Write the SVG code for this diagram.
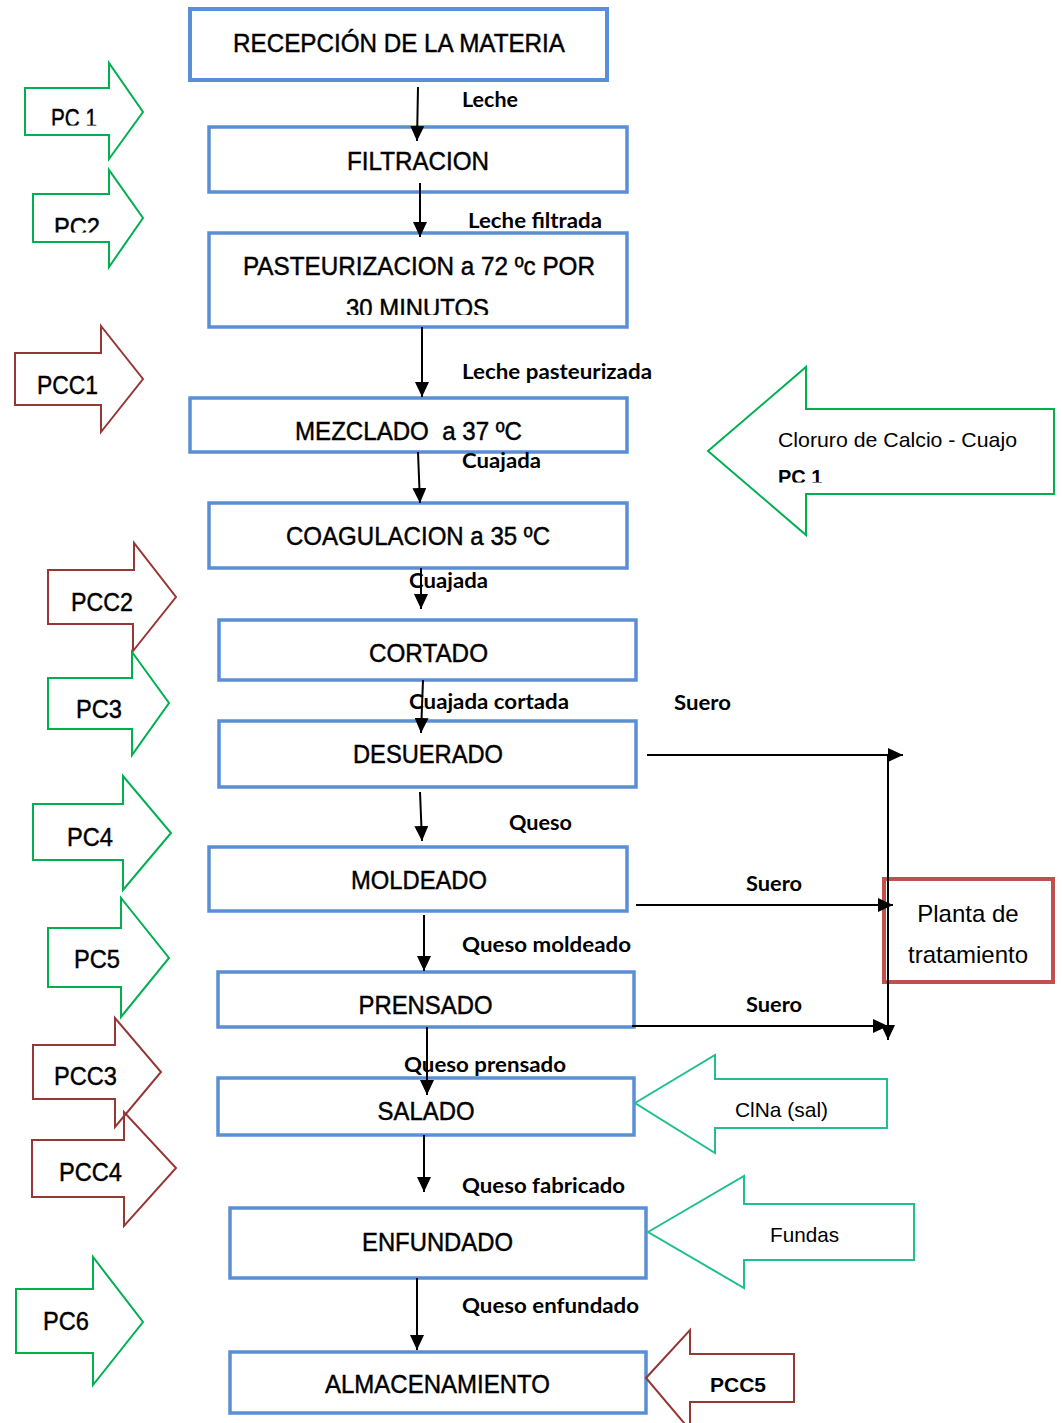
<svg xmlns="http://www.w3.org/2000/svg" width="1062" height="1423" viewBox="0 0 1062 1423">
<style>
.box{fill:#fff;stroke:#5b8fd5;stroke-width:3.5}
.bt{font-family:"Liberation Sans",Arial,sans-serif;font-size:26px;text-anchor:middle;fill:#000;stroke:#000;stroke-width:0.45}
.pc{fill:none;stroke:#00b050;stroke-width:2}
.pcc{fill:none;stroke:#953735;stroke-width:2}
.in{fill:none;stroke:#1fbf8f;stroke-width:2}
.lt{font-family:"Liberation Sans",Arial,sans-serif;font-size:26px;fill:#000;stroke:#000;stroke-width:0.45}
.st{font-family:"Liberation Sans",Arial,sans-serif;font-size:21px;fill:#000}
.cl{font-family:Lato,"Open Sans",sans-serif;font-weight:bold;font-size:20px;fill:#000}
.con{stroke:#000;stroke-width:2;fill:none}
</style>
<defs>
<marker id="ah" markerUnits="userSpaceOnUse" markerWidth="15" markerHeight="14" viewBox="0 0 15 14" refX="15" refY="7" orient="auto">
<path d="M0,0 L15,7 L0,14 Z" fill="#000"/>
</marker>
<clipPath id="c30"><rect x="200" y="290" width="440" height="25"/></clipPath>
<clipPath id="cpc1"><rect x="20" y="100" width="120" height="25.5"/></clipPath>
<clipPath id="cpc2"><rect x="20" y="205" width="120" height="27.5"/></clipPath>
<clipPath id="cpcb"><rect x="770" y="460" width="100" height="22.5"/></clipPath>
</defs>

<g id="recepcion"><rect class="box" x="190" y="9" width="417" height="71" style="stroke-width:4"/><text class="bt" x="399" y="52" textLength="332" lengthAdjust="spacingAndGlyphs">RECEPCIÓN DE LA MATERIA</text></g>
<g id="filtracion"><rect class="box" x="209" y="127" width="418" height="65"/><text class="bt" x="418" y="170" textLength="142" lengthAdjust="spacingAndGlyphs">FILTRACION</text></g>
<g id="pasteurizacion"><rect class="box" x="209" y="233" width="418" height="94"/><text class="bt" x="419" y="275" textLength="352" lengthAdjust="spacingAndGlyphs">PASTEURIZACION a 72 ºc POR</text><text class="bt" x="417.5" y="317" textLength="143" lengthAdjust="spacingAndGlyphs" clip-path="url(#c30)">30 MINUTOS</text></g>
<g id="mezclado"><rect class="box" x="190" y="398" width="437" height="54"/><text class="bt" x="408.5" y="440" textLength="227" lengthAdjust="spacingAndGlyphs" xml:space="preserve">MEZCLADO  a 37 ºC</text></g>
<g id="coagulacion"><rect class="box" x="209" y="503" width="418" height="65"/><text class="bt" x="418" y="545" textLength="264" lengthAdjust="spacingAndGlyphs">COAGULACION a 35 ºC</text></g>
<g id="cortado"><rect class="box" x="219" y="620" width="417" height="60"/><text class="bt" x="428.5" y="662" textLength="119" lengthAdjust="spacingAndGlyphs">CORTADO</text></g>
<g id="desuerado"><rect class="box" x="219" y="721" width="417" height="66"/><text class="bt" x="428" y="763" textLength="150" lengthAdjust="spacingAndGlyphs">DESUERADO</text></g>
<g id="moldeado"><rect class="box" x="209" y="847" width="418" height="64"/><text class="bt" x="419" y="889" textLength="136" lengthAdjust="spacingAndGlyphs">MOLDEADO</text></g>
<g id="prensado"><rect class="box" x="218" y="972" width="416" height="55"/><text class="bt" x="425.5" y="1014" textLength="134" lengthAdjust="spacingAndGlyphs">PRENSADO</text></g>
<g id="salado"><rect class="box" x="218" y="1078" width="416" height="57"/><text class="bt" x="426" y="1120" textLength="97" lengthAdjust="spacingAndGlyphs">SALADO</text></g>
<g id="enfundado"><rect class="box" x="230" y="1208" width="416" height="70"/><text class="bt" x="437.5" y="1251" textLength="151" lengthAdjust="spacingAndGlyphs">ENFUNDADO</text></g>
<g id="almacenamiento"><rect class="box" x="230" y="1352" width="416" height="61"/><text class="bt" x="437.5" y="1393" textLength="225" lengthAdjust="spacingAndGlyphs">ALMACENAMIENTO</text></g>
<g id="planta"><rect x="884" y="879" width="169" height="103" fill="#fff" stroke="#c0504d" stroke-width="4"/><text class="st" x="968" y="922" text-anchor="middle" style="font-size:24px">Planta de</text><text class="st" x="968" y="963" text-anchor="middle" style="font-size:24px">tratamiento</text></g>

<g id="pc1"><polygon class="pc" points="25,88 109,88 109,63 143,112 109,159 109,135 25,135"/><text class="lt" x="51" y="127" textLength="46" lengthAdjust="spacingAndGlyphs" clip-path="url(#cpc1)">PC 1</text></g>
<g id="pc2"><polygon class="pc" points="33,194 109,194 109,170 143,218 109,267 109,242 33,242"/><text class="lt" x="54" y="236" textLength="46" lengthAdjust="spacingAndGlyphs" clip-path="url(#cpc2)">PC2</text></g>
<g id="pcc1"><polygon class="pcc" points="15,353 101,353 101,326 143,379 101,432 101,405 15,405"/><text class="lt" x="37" y="394" textLength="61" lengthAdjust="spacingAndGlyphs">PCC1</text></g>
<g id="pcc2"><polygon class="pcc" points="48,570 134,570 134,543 176,597 133,651 133,624 48,624"/><text class="lt" x="71" y="611" textLength="62" lengthAdjust="spacingAndGlyphs">PCC2</text></g>
<g id="pc3"><polygon class="pc" points="48,678 132,678 132,652 169,703 132,755 132,729 48,729"/><text class="lt" x="76" y="718" textLength="46" lengthAdjust="spacingAndGlyphs">PC3</text></g>
<g id="pc4"><polygon class="pc" points="33,804 123,804 123,776 171,833 123,890 123,860 33,860"/><text class="lt" x="67" y="846" textLength="46" lengthAdjust="spacingAndGlyphs">PC4</text></g>
<g id="pc5"><polygon class="pc" points="48,928 121,928 121,898 169,958 121,1017 121,987 48,987"/><text class="lt" x="74" y="968" textLength="46" lengthAdjust="spacingAndGlyphs">PC5</text></g>
<g id="pcc3"><polygon class="pcc" points="33,1045 115,1045 115,1018 161,1072 115,1127 115,1099 33,1099"/><text class="lt" x="54" y="1085" textLength="63" lengthAdjust="spacingAndGlyphs">PCC3</text></g>
<g id="pcc4"><polygon class="pcc" points="32,1140 124,1140 124,1112 176,1168 124,1226 124,1197 32,1197"/><text class="lt" x="59" y="1181" textLength="63" lengthAdjust="spacingAndGlyphs">PCC4</text></g>
<g id="pc6"><polygon class="pc" points="16,1289 93,1289 93,1257 143,1322 93,1385 93,1353 16,1353"/><text class="lt" x="43" y="1330" textLength="46" lengthAdjust="spacingAndGlyphs">PC6</text></g>

<g id="cloruro"><polygon class="pc" points="708,451 806,367 806,409 1054,409 1054,494 806,494 806,535"/><text class="st" x="778" y="447" textLength="239" lengthAdjust="spacingAndGlyphs">Cloruro de Calcio - Cuajo</text><text class="st" x="778" y="484" font-weight="bold" style="font-size:20px" clip-path="url(#cpcb)">PC 1</text></g>
<g id="clna"><polygon class="in" points="635,1103 715,1055 715,1079 887,1079 887,1128 715,1128 715,1153"/><text class="st" x="735" y="1117" textLength="93" lengthAdjust="spacingAndGlyphs">ClNa (sal)</text></g>
<g id="fundas"><polygon class="in" points="648,1232 744,1176 744,1204 914,1204 914,1260 744,1260 744,1288"/><text class="st" x="770" y="1242" textLength="69" lengthAdjust="spacingAndGlyphs">Fundas</text></g>
<g id="pcc5"><polygon class="pcc" points="646,1378 690,1330 690,1354 794,1354 794,1402 690,1402 690,1430"/><text class="st" x="710" y="1392" font-weight="bold" style="font-size:20px" textLength="56" lengthAdjust="spacingAndGlyphs">PCC5</text></g>

<g id="connectors">
<line class="con" x1="418" y1="87" x2="417" y2="141" marker-end="url(#ah)"/>
<line class="con" x1="420" y1="183" x2="420" y2="237" marker-end="url(#ah)"/>
<line class="con" x1="422" y1="327" x2="422" y2="397" marker-end="url(#ah)"/>
<line class="con" x1="418" y1="452" x2="420" y2="503" marker-end="url(#ah)"/>
<line class="con" x1="421" y1="568" x2="421" y2="609" marker-end="url(#ah)"/>
<line class="con" x1="423" y1="680" x2="421" y2="733" marker-end="url(#ah)"/>
<line class="con" x1="420" y1="792" x2="422" y2="841" marker-end="url(#ah)"/>
<line class="con" x1="424" y1="915" x2="424" y2="971" marker-end="url(#ah)"/>
<line class="con" x1="427" y1="1027" x2="427" y2="1095" marker-end="url(#ah)"/>
<line class="con" x1="424" y1="1135" x2="424" y2="1192" marker-end="url(#ah)"/>
<line class="con" x1="417" y1="1278" x2="417" y2="1350" marker-end="url(#ah)"/>
<line class="con" x1="647" y1="755" x2="903" y2="755" marker-end="url(#ah)"/>
<line class="con" x1="636" y1="905" x2="893" y2="905" marker-end="url(#ah)"/>
<line class="con" x1="632" y1="1026" x2="888" y2="1026" marker-end="url(#ah)"/>
<line class="con" x1="888" y1="755" x2="888" y2="1040" marker-end="url(#ah)"/>
<text class="cl" x="462" y="107" textLength="56" lengthAdjust="spacingAndGlyphs">Leche</text>
<text class="cl" x="468" y="228" textLength="134" lengthAdjust="spacingAndGlyphs">Leche filtrada</text>
<text class="cl" x="462" y="379" textLength="190" lengthAdjust="spacingAndGlyphs">Leche pasteurizada</text>
<text class="cl" x="462" y="468" textLength="79" lengthAdjust="spacingAndGlyphs">Cuajada</text>
<text class="cl" x="409" y="588" textLength="79" lengthAdjust="spacingAndGlyphs">Cuajada</text>
<text class="cl" x="409" y="709" textLength="160" lengthAdjust="spacingAndGlyphs">Cuajada cortada</text>
<text class="cl" x="674" y="710" textLength="57" lengthAdjust="spacingAndGlyphs">Suero</text>
<text class="cl" x="509" y="830" textLength="63" lengthAdjust="spacingAndGlyphs">Queso</text>
<text class="cl" x="746" y="891" textLength="56" lengthAdjust="spacingAndGlyphs">Suero</text>
<text class="cl" x="462" y="952" textLength="169" lengthAdjust="spacingAndGlyphs">Queso moldeado</text>
<text class="cl" x="746" y="1012" textLength="56" lengthAdjust="spacingAndGlyphs">Suero</text>
<text class="cl" x="404" y="1072" textLength="162" lengthAdjust="spacingAndGlyphs">Queso prensado</text>
<text class="cl" x="462" y="1193" textLength="163" lengthAdjust="spacingAndGlyphs">Queso fabricado</text>
<text class="cl" x="462" y="1313" textLength="177" lengthAdjust="spacingAndGlyphs">Queso enfundado</text>
</g>
</svg>
